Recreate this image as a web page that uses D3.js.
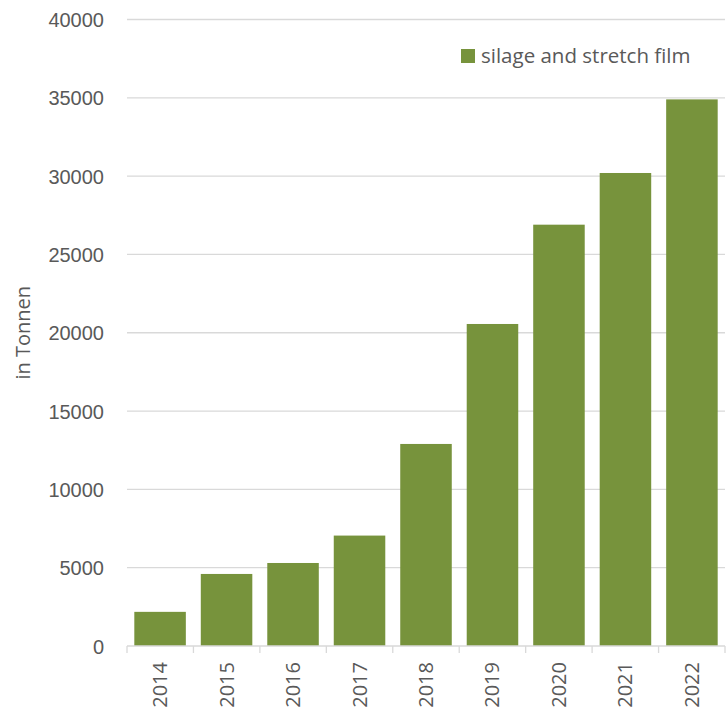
<!DOCTYPE html>
<html>
<head>
<meta charset="utf-8">
<script src="https://cdn.jsdelivr.net/npm/d3@7"></script>
<style>
  body { margin: 0; background: #fff; }
  svg { font-family: "Open Sans", "Noto Sans", sans-serif; }
</style>
</head>
<body>
<svg id="chart"></svg>
<script>
const width = 727,
    height = 711;

// data
const years = ["2014", "2015", "2016", "2017", "2018", "2019", "2020", "2021", "2022"];
const tonnes = [2180, 4600, 5300, 7050, 12900, 20560, 26900, 30200, 34900];
const yTicks = [0, 5000, 10000, 15000, 20000, 25000, 30000, 35000, 40000];
const seriesName = "silage and stretch film";
const axisTitle = "in Tonnen";

const margin = { top: 19.5, right: 2, bottom: 65, left: 127 };
const barColor = "#77933c",
    textColor = "#595959",
    gridColor = "#d9d9d9";

const svg = d3.select("#chart")
    .attr("width", width)
    .attr("height", height);

const x = d3.scaleBand()
    .domain(years)
    .range([margin.left, width - margin.right])
    .paddingInner(0.225)
    .paddingOuter(0.11);

const y = d3.scaleLinear()
    .domain([0, 40000])
    .range([height - margin.bottom, margin.top]);

// gridlines
svg.append("g")
    .selectAll("line")
    .data(yTicks.slice(1))
    .join("line")
    .attr("x1", margin.left)
    .attr("x2", width - margin.right)
    .attr("y1", d => y(d))
    .attr("y2", d => y(d))
    .attr("stroke", gridColor)
    .attr("stroke-width", 1.3);

// bars
svg.append("g")
    .selectAll("rect")
    .data(years)
    .join("rect")
    .attr("x", d => x(d))
    .attr("width", x.bandwidth())
    .attr("y", (d, i) => y(tonnes[i]))
    .attr("height", (d, i) => y(0) - y(tonnes[i]))
    .attr("fill", barColor);

// y axis labels
const yAxis = svg.append("g")
    .attr("transform", `translate(${margin.left},0)`)
    .call(d3.axisLeft(y).tickValues(yTicks).tickSize(0).tickPadding(23).tickFormat(d3.format("d")));
yAxis.select(".domain").remove();
yAxis.selectAll("text")
    .attr("fill", textColor)
    .attr("font-size", 20)
    .attr("dy", "0.35em");

// x axis
const xAxisG = svg.append("g")
    .attr("transform", `translate(0,${y(0)})`);
xAxisG.append("line")
    .attr("x1", margin.left)
    .attr("x2", width - margin.right)
    .attr("stroke", gridColor)
    .attr("stroke-width", 1.3);
xAxisG.selectAll("line.tick")
    .data(d3.range(years.length + 1))
    .join("line")
    .attr("class", "tick")
    .attr("x1", i => margin.left + i * (width - margin.right - margin.left) / years.length)
    .attr("x2", i => margin.left + i * (width - margin.right - margin.left) / years.length)
    .attr("y1", 0)
    .attr("y2", 7)
    .attr("stroke", gridColor)
    .attr("stroke-width", 1.3);
xAxisG.selectAll("text")
    .data(years)
    .join("text")
    .attr("transform", d => `translate(${x(d) + x.bandwidth() / 2 + 7},${16}) rotate(-90)`)
    .attr("text-anchor", "end")
    .attr("fill", textColor)
    .attr("font-size", 20)
    .text(d => d);

// y axis title
svg.append("text")
    .attr("transform", `translate(30,${y(20000)}) rotate(-90)`)
    .attr("text-anchor", "middle")
    .attr("fill", textColor)
    .attr("font-size", 20)
    .text(axisTitle);

// legend
const legend = svg.append("g").attr("transform", "translate(461,49)");
legend.append("rect")
    .attr("width", 14)
    .attr("height", 14)
    .attr("fill", barColor);
legend.append("text")
    .attr("x", 20)
    .attr("y", 14)
    .attr("fill", textColor)
    .attr("font-size", 20.5)
    .text(seriesName);
</script>
</body>
</html>
